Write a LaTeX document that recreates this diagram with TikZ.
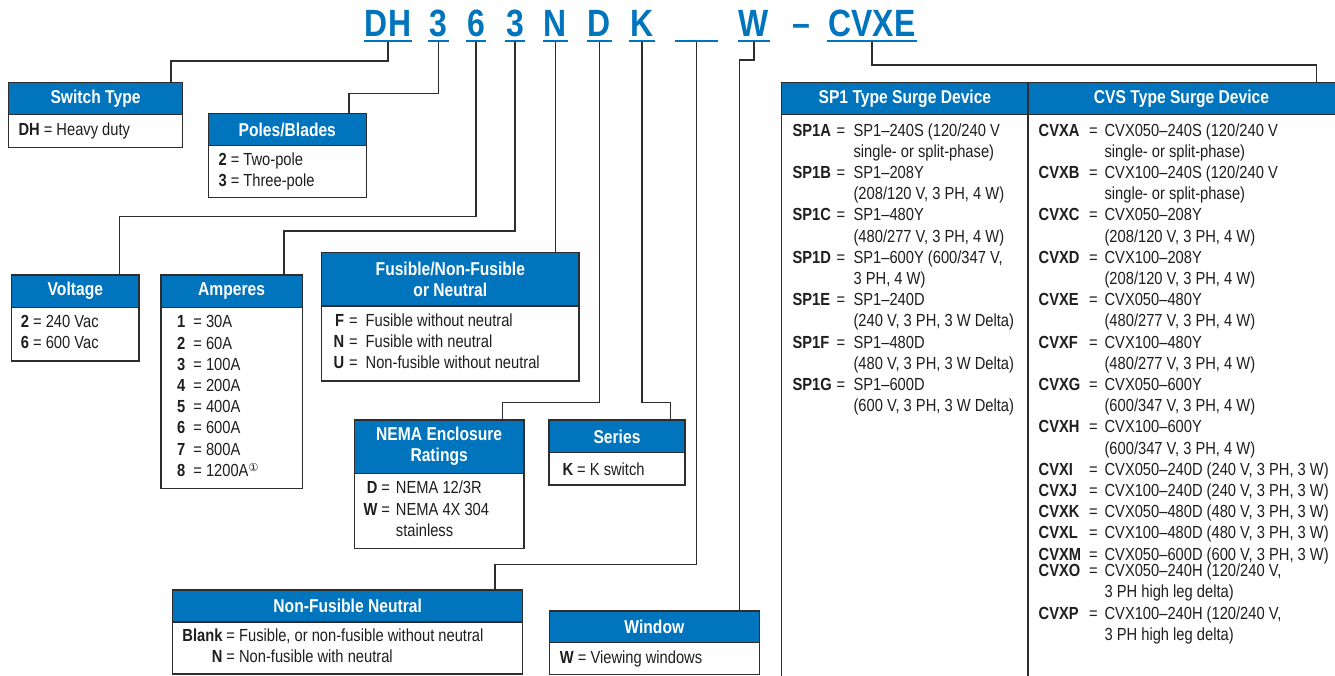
\documentclass[tikz,border=0pt]{standalone}
\usepackage{fontspec}
\setmainfont{Liberation Sans}[FakeStretch=0.84]
\newfontfamily\circfont{DejaVu Sans}
\usepackage{array}
\usepackage{tikz}
\usetikzlibrary{positioning}

\definecolor{eblue}{RGB}{0,116,189}
\definecolor{linegray}{RGB}{45,45,45}
\definecolor{textgray}{RGB}{30,30,30}

\begin{document}
\begin{tikzpicture}[x=1pt,y=-1pt,
  head/.style={draw=linegray,line width=1.2pt,fill=eblue,text=white,outer sep=0pt,inner sep=0pt,
    align=center,anchor=north west,font=\fontsize{18.6}{21}\selectfont\bfseries},
  body/.style={draw=linegray,line width=1.2pt,fill=white,outer sep=0pt,inner sep=0pt},
  txt/.style={inner sep=0pt,text=textgray,font=\fontsize{17.5}{21.2}\selectfont},
  code/.style={anchor=south,text=eblue,inner xsep=1pt,inner ysep=4pt,text depth=0pt,
    font=\fontsize{38}{38}\selectfont\bfseries},
  uline/.style={draw=eblue,line width=1.8pt},
  conn/.style={draw=linegray,line width=1.2pt}]

  \useasboundingbox (0,0) rectangle (1335,675);

  % 品番コード（上段）
  \node[code] (cDH) at (388,41) {DH};
  \node[code] (cP) at (438.5,41) {3};
  \node[code] (cV) at (476,41) {6};
  \node[code] (cA) at (515,41) {3};
  \node[code] (cN) at (555.5,41) {N};
  \node[code] (cD) at (599.5,41) {D};
  \node[code] (cK) at (642,41) {K};
  \node[code,minimum width=42pt] (cB) at (696.5,41) {};
  \node[code] (cW) at (754,41) {W};
  \node[code] (cDash) at (801,41) {–};
  \node[code] (cC) at (872,41) {CVXE};

  % Switch Type
  \node[head,minimum width=174.4pt,minimum height=32pt] (hST) at (8.3,82.3) {Switch Type};
  \node[body,minimum width=174.4pt,minimum height=33pt,below=0pt of hST] (bST) {};
  \node[txt,right=10pt of bST.west] (tST) {\textbf{DH} = Heavy duty};

  % Poles/Blades
  \node[head,minimum width=158pt,minimum height=32.4pt] (hPB) at (208.3,113.3) {Poles/Blades};
  \node[body,minimum width=158pt,minimum height=52pt,below=0pt of hPB] (bPB) {};
  \node[txt,right=10pt of bPB.west] (tPB) {\begin{tabular}{@{}l@{}}
    \textbf{2} = Two-pole\\
    \textbf{3} = Three-pole\end{tabular}};

  % Voltage
  \node[head,minimum width=127.3pt,minimum height=32.3pt] (hVO) at (11.7,275) {Voltage};
  \node[body,minimum width=127.3pt,minimum height=53.7pt,below=0pt of hVO] (bVO) {};
  \node[txt,right=9pt of bVO.west] (tVO) {\begin{tabular}{@{}l@{}}
    \textbf{2} = 240 Vac\\
    \textbf{6} = 600 Vac\end{tabular}};

  % Amperes
  \node[head,minimum width=141.3pt,minimum height=32.3pt] (hAM) at (161,275) {Amperes};
  \node[body,minimum width=141.3pt,minimum height=181pt,below=0pt of hAM] (bAM) {};
  \node[txt,right=16pt of bAM.west] (tAM) {\begin{tabular}{@{}l@{\hspace{8pt}}l@{}}
    \textbf{1} & = 30A\\
    \textbf{2} & = 60A\\
    \textbf{3} & = 100A\\
    \textbf{4} & = 200A\\
    \textbf{5} & = 400A\\
    \textbf{6} & = 600A\\
    \textbf{7} & = 800A\\
    \textbf{8} & = 1200A\raisebox{4.5pt}{\circfont\fontsize{11}{11}\selectfont ①}\end{tabular}};

  % Fusible/Non-Fusible or Neutral
  \node[head,minimum width=257.3pt,minimum height=53.3pt] (hFU) at (321.7,252.7) {Fusible/Non-Fusible\\or Neutral};
  \node[body,minimum width=257.3pt,minimum height=75pt,below=0pt of hFU] (bFU) {};
  \node[txt,right=11.6pt of bFU.west] (tFU) {\begin{tabular}{@{}r@{\hspace{5pt}}l@{\hspace{8pt}}l@{}}
    \textbf{F} & = & Fusible without neutral\\
    \textbf{N} & = & Fusible with neutral\\
    \textbf{U} & = & Non-fusible without neutral\end{tabular}};

  % NEMA Enclosure Ratings
  \node[head,minimum width=169.7pt,minimum height=53.3pt] (hNE) at (354.3,420) {NEMA Enclosure\\Ratings};
  \node[body,minimum width=169.7pt,minimum height=75pt,below=0pt of hNE] (bNE) {};
  \node[txt,right=9pt of bNE.west] (tNE) {\begin{tabular}{@{}r@{\hspace{4pt}}l@{\hspace{6pt}}l@{}}
    \textbf{D} & = & NEMA 12/3R\\
    \textbf{W} & = & NEMA 4X 304\\
     & & stainless\end{tabular}};

  % Series
  \node[head,minimum width=136pt,minimum height=32.7pt] (hSE) at (549,420) {Series};
  \node[body,minimum width=136pt,minimum height=32.3pt,below=0pt of hSE] (bSE) {};
  \node[txt,right=13.3pt of bSE.west] (tSE) {\textbf{K} = K switch};

  % Non-Fusible Neutral
  \node[head,minimum width=350.1pt,minimum height=32pt] (hNF) at (172.6,590) {Non-Fusible Neutral};
  \node[body,minimum width=350.1pt,minimum height=52pt,below=0pt of hNF] (bNF) {};
  \node[txt,right=9.6pt of bNF.west] (tNF) {\begin{tabular}{@{}r@{\hspace{4pt}}l@{}}
    \textbf{Blank} & = Fusible, or non-fusible without neutral\\
    \textbf{N} & = Non-fusible with neutral\end{tabular}};

  % Window
  \node[head,minimum width=210pt,minimum height=31.7pt] (hWI) at (549.3,611) {Window};
  \node[body,minimum width=210pt,minimum height=31.6pt,below=0pt of hWI] (bWI) {};
  \node[txt,right=10.4pt of bWI.west] (tWI) {\textbf{W} = Viewing windows};

  % サージ保護装置の表
  \node[head,minimum width=246.2pt,minimum height=31.5pt] (hSP) at (781.8,82.7) {SP1 Type Surge Device};
  \node[head,minimum width=320pt,minimum height=31.5pt] (hCV) at (1028,82.7) {CVS Type Surge Device\kern13pt};
  \node[body,minimum width=246.2pt,minimum height=580pt,below=0pt of hSP] (bSP) {};
  \node[body,minimum width=320pt,minimum height=580pt,below=0pt of hCV] (bCV) {};
  \node[txt,anchor=north west] (tSP) at (792.3,121) {\begin{tabular}{@{}>{\bfseries}p{44pt}@{}l@{\hspace{8.5pt}}l@{}}
    SP1A & = & SP1–240S (120/240 V\\
     & & single- or split-phase)\\
    SP1B & = & SP1–208Y\\
     & & (208/120 V, 3 PH, 4 W)\\
    SP1C & = & SP1–480Y\\
     & & (480/277 V, 3 PH, 4 W)\\
    SP1D & = & SP1–600Y (600/347 V,\\
     & & 3 PH, 4 W)\\
    SP1E & = & SP1–240D\\
     & & (240 V, 3 PH, 3 W Delta)\\
    SP1F & = & SP1–480D\\
     & & (480 V, 3 PH, 3 W Delta)\\
    SP1G & = & SP1–600D\\
     & & (600 V, 3 PH, 3 W Delta)\end{tabular}};
  \node[txt,anchor=north west] (tCV) at (1038.5,121) {\begin{tabular}{@{}>{\bfseries}p{50.5pt}@{}l@{\hspace{6.8pt}}l@{}}
    CVXA & = & CVX050–240S (120/240 V\\
     & & single- or split-phase)\\
    CVXB & = & CVX100–240S (120/240 V\\
     & & single- or split-phase)\\
    CVXC & = & CVX050–208Y\\
     & & (208/120 V, 3 PH, 4 W)\\
    CVXD & = & CVX100–208Y\\
     & & (208/120 V, 3 PH, 4 W)\\
    CVXE & = & CVX050–480Y\\
     & & (480/277 V, 3 PH, 4 W)\\
    CVXF & = & CVX100–480Y\\
     & & (480/277 V, 3 PH, 4 W)\\
    CVXG & = & CVX050–600Y\\
     & & (600/347 V, 3 PH, 4 W)\\
    CVXH & = & CVX100–600Y\\
     & & (600/347 V, 3 PH, 4 W)\\
    CVXI & = & CVX050–240D (240 V, 3 PH, 3 W)\\
    CVXJ & = & CVX100–240D (240 V, 3 PH, 3 W)\\
    CVXK & = & CVX050–480D (480 V, 3 PH, 3 W)\\
    CVXL & = & CVX100–480D (480 V, 3 PH, 3 W)\\
    CVXM & = & CVX050–600D (600 V, 3 PH, 3 W)\\[-4.5pt]
    CVXO & = & CVX050–240H (120/240 V,\\
     & & 3 PH high leg delta)\\
    CVXP & = & CVX100–240H (120/240 V,\\
     & & 3 PH high leg delta)\end{tabular}};

  % コードから各表への引き出し線
  \draw[conn] (cDH.south) -- ++(0,20) -| ([xshift=75.5pt]hST.north);
  \draw[conn] (cP.south) -- ++(0,52.3) -| ([xshift=61.7pt]hPB.north);
  \draw[conn] (cV.south) -- ++(0,175.7) -| ([xshift=43.95pt]hVO.north);
  \draw[conn] (cA.south) -- ++(0,190) -| ([xshift=52.35pt]hAM.north);
  \draw[conn] (cN.south) -- (cN.south |- hFU.north);
  \draw[conn] (cD.south) -- ++(0,361.7) -| ([xshift=63.55pt]hNE.north);
  \draw[conn] (cK.south) -- ++(0,361.3) -| ([xshift=53.7pt]hSE.north);
  \draw[conn] (cB.south) -- ++(0,523.3) -| ([xshift=147.35pt]hNF.north);
  \draw[conn] (cW.south) -- ++(0,19) -| ([xshift=84.9pt]hWI.north);
  \draw[conn] (cC.south) -- ++(0,24) -| ([xshift=128.7pt]hCV.north);

  % 下線
  \foreach \c in {cDH,cP,cV,cA,cN,cD,cK,cB,cW,cC}
    \draw[uline] (\c.south west) -- (\c.south east);
\end{tikzpicture}
\end{document}
